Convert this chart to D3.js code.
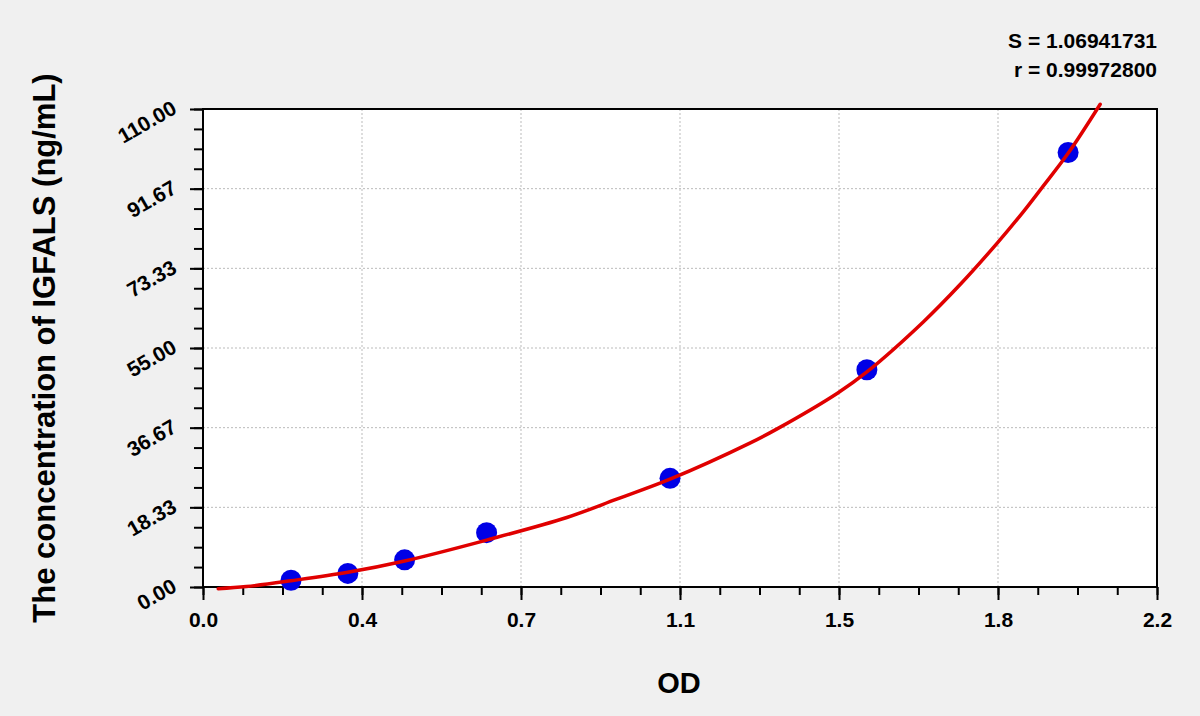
<!DOCTYPE html>
<html>
<head>
<meta charset="utf-8">
<script src="https://cdn.jsdelivr.net/npm/d3@7"></script>
<style>
  body { margin: 0; background: #f0f0f0; }
  svg { display: block; font-family: "Liberation Sans", Arial, sans-serif; }
</style>
</head>
<body>
<div id="chart"></div>
<script>
// standard points (OD vs concentration)
const od = [0.203, 0.334, 0.465, 0.654, 1.077, 1.531, 1.995];
const conc = [1.56, 3.13, 6.25, 12.5, 25, 50, 100];

// fitted curve
const curveOd = [0.035, 0.1, 0.203, 0.334, 0.465, 0.654, 0.839, 0.954, 1.077, 1.261, 1.326, 1.463, 1.531, 1.661, 1.746, 1.832, 1.892, 1.934, 1.995, 2.069];
const curveConc = [-0.4, 0.1, 1.45, 3.4, 6.0, 10.8, 16.0, 20.2, 24.8, 33.1, 36.5, 44.6, 49.5, 61.0, 69.6, 79.2, 86.4, 91.8, 99.8, 111.1];

const xMax = 2.2, yMax = 110;
const statsLines = ["S = 1.06941731", "r = 0.99972800"];

var width = 1200, height = 716;
var margin = { top: 109, right: 43, bottom: 129, left: 203 };

var svg = d3.select("#chart").append("svg")
    .attr("width", width)
    .attr("height", height);

svg.append("rect").attr("width", width).attr("height", height).attr("fill", "#f0f0f0");

const x = d3.scaleLinear().domain([0, xMax]).range([margin.left, width - margin.right]);
const y = d3.scaleLinear().domain([0, yMax]).range([height - margin.bottom, margin.top]);

const xMajor = d3.range(7).map(i => i * xMax / 6);
const yMajor = d3.range(7).map(i => i * yMax / 6);
const xMinor = d3.range(25).map(i => i * xMax / 24);
const yMinor = d3.range(25).map(i => i * yMax / 24);

// plot background
svg.append("rect")
    .attr("x", x(0)).attr("y", y(yMax))
    .attr("width", x(xMax) - x(0)).attr("height", y(0) - y(yMax))
    .attr("fill", "white");

// grid
svg.append("g").selectAll("line").data(xMajor.slice(1, -1)).join("line")
    .attr("x1", d => x(d)).attr("x2", d => x(d))
    .attr("y1", y(0)).attr("y2", y(yMax))
    .attr("stroke", "#bbb").attr("stroke-dasharray", "2,2");
svg.append("g").selectAll("line").data(yMajor.slice(1, -1)).join("line")
    .attr("y1", d => y(d)).attr("y2", d => y(d))
    .attr("x1", x(0)).attr("x2", x(xMax))
    .attr("stroke", "#bbb").attr("stroke-dasharray", "2,2");

// minor ticks
svg.append("g")
    .attr("transform", `translate(0,${y(0)})`)
    .call(d3.axisBottom(x).tickValues(xMinor).tickSize(8).tickFormat(""))
    .call(g => g.select(".domain").remove())
    .selectAll("line").attr("stroke", "black").attr("stroke-width", 2);
svg.append("g")
    .attr("transform", `translate(${x(0)},0)`)
    .call(d3.axisLeft(y).tickValues(yMinor).tickSize(9).tickFormat(""))
    .call(g => g.select(".domain").remove())
    .selectAll("line").attr("stroke", "black").attr("stroke-width", 2);

// major x axis
var xAxis = svg.append("g")
    .attr("transform", `translate(0,${y(0)})`)
    .call(d3.axisBottom(x).tickValues(xMajor).tickSize(13).tickPadding(0).tickFormat(d3.format(".1f")));
xAxis.select(".domain").remove();
xAxis.selectAll("line").attr("stroke", "black").attr("stroke-width", 2);
xAxis.selectAll("text")
    .attr("y", 40).attr("dy", null)
    .attr("font-size", 21).attr("font-weight", "bold").attr("fill", "black")
    .attr("font-family", "Liberation Sans, Arial, sans-serif");

// major y axis
var yAxis = svg.append("g")
    .attr("transform", `translate(${x(0)},0)`)
    .call(d3.axisLeft(y).tickValues(yMajor).tickSize(13).tickFormat(d3.format(".2f")));
yAxis.select(".domain").remove();
yAxis.selectAll("line").attr("stroke", "black").attr("stroke-width", 2);
yAxis.selectAll("text")
    .attr("x", null).attr("dy", null)
    .attr("text-anchor", "end")
    .attr("transform", "translate(-25,3) rotate(-30)")
    .attr("font-size", 21).attr("font-weight", "bold").attr("fill", "black")
    .attr("font-family", "Liberation Sans, Arial, sans-serif");

// frame
svg.append("rect")
    .attr("x", x(0)).attr("y", y(yMax))
    .attr("width", x(xMax) - x(0)).attr("height", y(0) - y(yMax))
    .attr("fill", "none").attr("stroke", "black").attr("stroke-width", 2);

// points
const pts = od.map((d, i) => ({ od: d, c: conc[i] }));
svg.append("g").selectAll("circle").data(pts).join("circle")
    .attr("cx", d => x(d.od)).attr("cy", d => y(d.c))
    .attr("r", 10.5).attr("fill", "#0000e6");

// fitted curve
const curvePts = curveOd.map((d, i) => [d, curveConc[i]]);
svg.append("path")
    .datum(curvePts)
    .attr("d", d3.line().x(d => x(d[0])).y(d => y(d[1])).curve(d3.curveCatmullRom.alpha(0.5)))
    .attr("fill", "none").attr("stroke", "#e00000").attr("stroke-width", 3.5)
    .attr("stroke-linecap", "round");

// stats text
svg.append("g").selectAll("text").data(statsLines).join("text")
    .attr("x", 1157).attr("y", (d, i) => 48 + i * 29)
    .attr("text-anchor", "end")
    .attr("font-size", 21).attr("font-weight", "bold")
    .text(d => d);

// axis titles
svg.append("text")
    .attr("x", x(xMax / 2) - 1).attr("y", 693)
    .attr("text-anchor", "middle")
    .attr("font-size", 29).attr("font-weight", "bold")
    .text("OD");

svg.append("text")
    .attr("transform", `translate(55,${(y(0) + y(yMax)) / 2}) rotate(-90)`)
    .attr("text-anchor", "middle")
    .attr("font-size", 31).attr("font-weight", "bold")
    .text("The concentration of IGFALS (ng/mL)");
</script>
</body>
</html>
